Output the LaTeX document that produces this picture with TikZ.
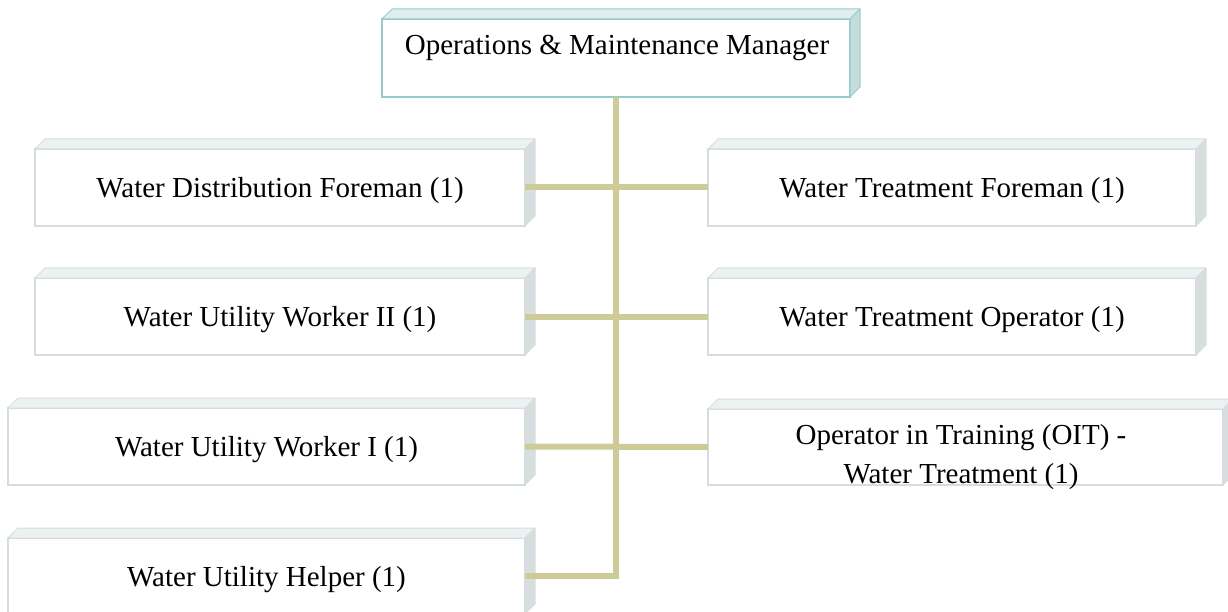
\documentclass[tikz,border=0pt]{standalone}
\usepackage{fontspec}
\setmainfont{Liberation Serif}
\definecolor{conncol}{RGB}{205,204,152}
\definecolor{mgrline}{RGB}{150,204,200}
\definecolor{mgrtop}{RGB}{221,238,236}
\definecolor{mgrside}{RGB}{198,220,218}
\definecolor{boxline}{RGB}{212,222,222}
\definecolor{boxtop}{RGB}{236,242,242}
\definecolor{boxside}{RGB}{216,222,223}
\tikzset{
  orgbox/.style={draw=boxline, fill=white, line width=1.3pt, inner sep=0pt, outer sep=0pt,
    font=\fontsize{29}{35}\selectfont, align=center, text height=27pt, text depth=7pt},
  mgrbox/.style={orgbox, draw=mgrline, line width=1.6pt},
  lbl/.style={font=\fontsize{29}{39}\selectfont, align=center, inner sep=0pt},
  conn/.style={draw=conncol, line width=6pt},
}
\newcommand\depthfaces[4]{%
  \filldraw[draw=#2, fill=#3, line width=1pt, line join=round]
    (#1.north west) -- ([shift={(10,-10)}]#1.north west) -- ([shift={(10,-10)}]#1.north east) -- (#1.north east) -- cycle;
  \filldraw[draw=#2, fill=#4, line width=1pt, line join=round]
    (#1.north east) -- ([shift={(10,-10)}]#1.north east) -- ([shift={(10,-10)}]#1.south east) -- (#1.south east) -- cycle;
}
\begin{document}
\begin{tikzpicture}[x=1pt,y=-1pt]
\useasboundingbox (0,0) rectangle (1228,612);
% manager
\node[mgrbox, minimum width=468pt, minimum height=78pt] (mgr) at (616,58) {};
\depthfaces{mgr}{mgrline}{mgrtop}{mgrside}
\node[lbl] (mgrt) at (617,47.5) {Operations \& Maintenance Manager};
% left column
\node[orgbox, minimum width=490pt, minimum height=77pt] (wdf) at (280,187.5) {Water Distribution Foreman (1)};
\depthfaces{wdf}{boxline}{boxtop}{boxside}
\node[orgbox, minimum width=490pt, minimum height=77pt] (wu2) at (280,316.5) {Water Utility Worker II (1)};
\depthfaces{wu2}{boxline}{boxtop}{boxside}
\node[orgbox, minimum width=517pt, minimum height=77pt] (wu1) at (266.5,446.5) {Water Utility Worker I (1)};
\depthfaces{wu1}{boxline}{boxtop}{boxside}
\node[orgbox, minimum width=517pt, minimum height=76pt] (help) at (266.5,576) {Water Utility Helper (1)};
\depthfaces{help}{boxline}{boxtop}{boxside}
% right column
\node[orgbox, minimum width=488pt, minimum height=77pt] (wtf) at (952,187.5) {Water Treatment Foreman (1)};
\depthfaces{wtf}{boxline}{boxtop}{boxside}
\node[orgbox, minimum width=488pt, minimum height=77pt] (wto) at (952,316.5) {Water Treatment Operator (1)};
\depthfaces{wto}{boxline}{boxtop}{boxside}
\node[orgbox, minimum width=515pt, minimum height=76pt] (oit) at (965.5,447) {};
\depthfaces{oit}{boxline}{boxtop}{boxside}
\node[lbl] (oitt) at (961,457.5) {Operator in Training (OIT) -\\Water Treatment (1)};
% connectors
\draw[conn] (mgr.south) |- (help.east);
\draw[conn] (wdf.east) -- (wtf.west);
\draw[conn] (wu2.east) -- (wto.west);
\draw[conn] (wu1.east) -- (oit.west);
\end{tikzpicture}
\end{document}
